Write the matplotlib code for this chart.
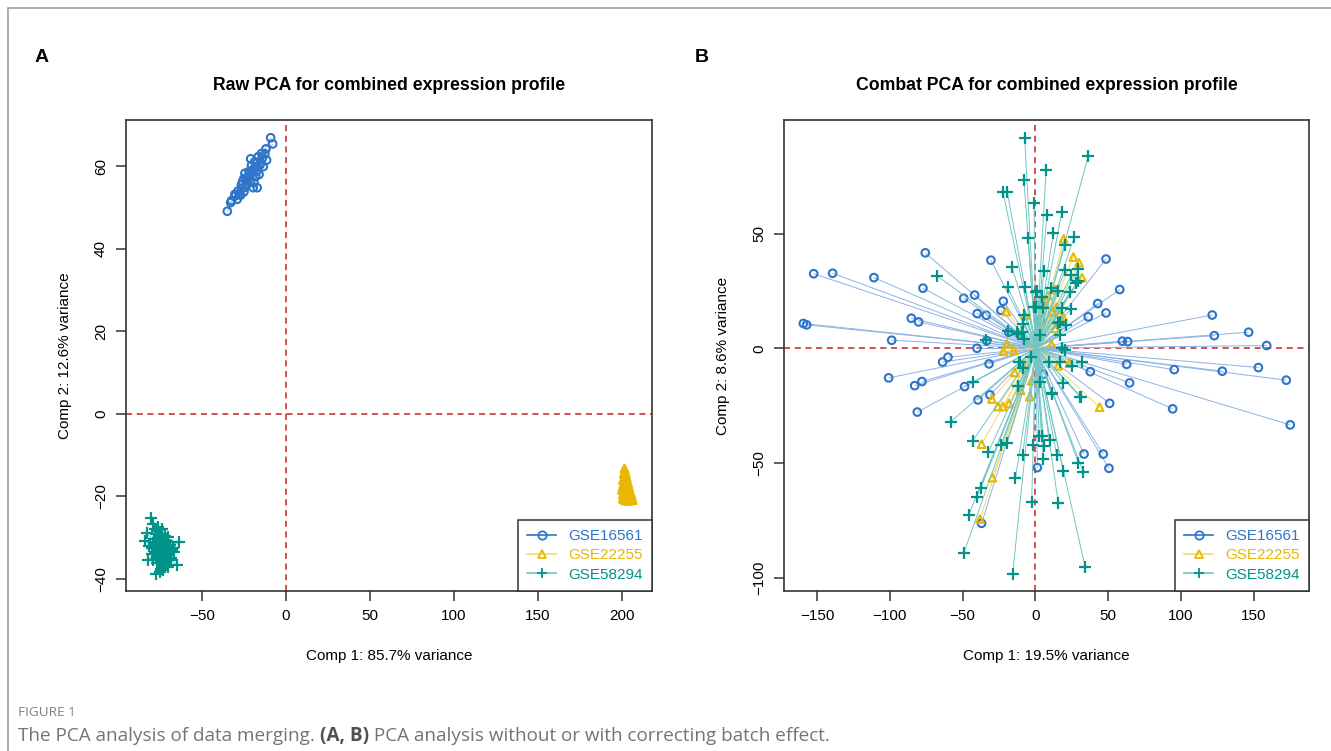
import numpy as np
import matplotlib
matplotlib.use("Agg")
import matplotlib.pyplot as plt
from matplotlib.collections import LineCollection
from matplotlib.lines import Line2D
from matplotlib.patches import Rectangle

plt.rcParams['font.family'] = ['Liberation Sans', 'DejaVu Sans']

groups = ['GSE16561', 'GSE22255', 'GSE58294']
colors = ['#2E74C9', '#E8B700', '#00938A']
line_colors = ['#8DB3E6', '#F2D873', '#72C6C0']
markers = ['o', '^', '+']

# ---- Panel A : raw PCA ----
a_blue_x = [-34.9, -32.9, -32.3, -30.4, -27.8, -30.0, -27.0, -25.0, -24.4, -25.8, -23.4, -24.4,
            -21.4, -19.5, -17.5, -18.5, -15.5, -13.5, -14.5, -11.9, -11.5, -9.1, -7.9, -19.5,
            -17.1, -21.4, -20.4, -22.0, -17.5, -26.4, -29.0, -26.5, -22.8, -20.5, -16.0, -14.0,
            -15.0, -23.0, -18.0, -21.0, -16.5, -12.5, -19.0, -25.0, -28.5]
a_blue_y = [49.1, 51.2, 51.7, 53.2, 53.2, 52.9, 53.0, 53.8, 54.9, 56.3, 56.7, 58.3,
            57.9, 59.2, 59.9, 61.1, 60.3, 59.9, 63.1, 64.2, 61.5, 66.9, 65.4, 54.8,
            54.8, 56.3, 58.7, 58.7, 58.7, 54.6, 52.0, 55.5, 57.2, 60.2, 58.0, 62.0,
            60.8, 55.8, 57.5, 61.8, 62.3, 63.0, 56.0, 57.0, 54.0]
a_yellow_x = [201.5, 202.0, 201.0, 202.5, 201.5, 203.0, 200.5, 202.0, 203.5, 201.0, 202.5, 204.0,
              200.5, 201.5, 203.0, 204.5, 200.0, 202.0, 203.5, 205.0, 201.0, 202.5, 204.0, 205.5,
              200.5, 202.0, 203.0, 204.5, 206.0, 201.0, 202.5, 204.0, 205.5, 200.5, 203.0, 205.0,
              206.5, 202.0, 204.0, 201.5]
a_yellow_y = [-13.2, -13.8, -14.5, -14.6, -15.3, -15.6, -16.0, -16.2, -16.5, -16.9, -17.0, -17.2,
              -17.5, -17.8, -17.9, -18.0, -18.4, -18.5, -18.7, -18.9, -19.0, -19.1, -19.3, -19.4,
              -19.6, -19.7, -19.8, -19.9, -20.0, -20.2, -20.3, -20.4, -20.5, -20.6, -20.8, -20.9,
              -20.9, -21.0, -21.1, -20.1]
a_teal_x = [-80.6, -79.0, -76.0, -82.9, -83.9, -70.0, -63.5, -67.1, -82.0, -77.0, -77.4, -73.0,
            -65.1, -69.0, -78.0, -76.5, -75.0, -74.0, -73.5, -72.0, -71.0, -78.5, -77.5, -76.0,
            -75.5, -74.5, -73.0, -72.5, -71.5, -70.5, -79.5, -78.0, -77.0, -76.0, -75.0, -74.0,
            -73.0, -72.0, -71.0, -69.5, -68.5, -80.0, -79.0, -76.5, -75.5, -74.5, -73.5, -72.5,
            -71.5, -70.0, -68.0, -77.5, -76.0, -75.0, -73.5, -72.0, -70.5, -66.5, -81.5, -74.0,
            -78.5, -76.5, -73.0, -71.0, -69.0, -75.0]
a_teal_y = [-25.1, -26.6, -27.3, -28.9, -30.9, -29.7, -31.1, -32.5, -35.4, -36.2, -38.7, -37.9,
            -36.6, -35.4, -27.8, -28.4, -29.2, -28.0, -30.0, -29.5, -31.0, -30.2, -31.5, -30.5,
            -32.0, -31.2, -32.8, -31.8, -33.0, -32.2, -32.5, -33.5, -33.0, -34.0, -33.4, -34.5,
            -34.0, -35.0, -34.2, -33.8, -34.8, -34.0, -35.5, -35.2, -36.0, -35.6, -36.5, -36.0,
            -35.5, -37.0, -33.0, -29.0, -30.0, -31.0, -29.2, -30.6, -30.8, -33.5, -32.0, -37.5,
            -31.0, -33.8, -31.5, -32.5, -31.8, -38.2]
a_centers = [(-20.0, 58.0), (203.0, -18.5), (-74.5, -32.5)]

# ---- Panel B : ComBat PCA ----
b_blue_x = [-152.3, -139.3, -110.9, -75.6, -77.2, -30.5, -49.2, -41.7, -22.0, -23.6, -39.9, -33.7,
            -85.2, -80.2, -159.4, -157.1, -98.7, -40.1, -33.4, -18.2, -60.0, -63.7, -31.8, -100.8,
            -82.9, -77.9, -48.6, -31.2, -39.4, -81.1, 1.4, -36.9, 48.6, 58.0, 42.9, 48.6,
            36.4, 121.6, 123.0, 146.6, 159.0, 59.8, 63.5, 62.8, 95.5, 128.5, 153.3, 172.5,
            64.8, 37.8, 5.5, 51.1, 94.4, 175.2, 33.5, 46.7, 50.6, 3.8]
b_blue_y = [32.5, 32.7, 30.8, 41.6, 26.2, 38.4, 21.8, 23.2, 20.5, 16.6, 15.1, 14.4,
            13.1, 11.5, 10.8, 10.2, 3.5, 0.0, 3.3, 7.0, -3.9, -6.0, -6.8, -12.9,
            -16.3, -14.5, -16.7, -20.3, -22.5, -27.8, -52.0, -76.3, 38.9, 25.6, 19.5, 15.4,
            13.7, 14.5, 5.5, 7.0, 1.2, 3.1, 2.9, -7.0, -9.3, -10.0, -8.4, -13.9,
            -15.1, -10.2, -11.3, -24.0, -26.4, -33.4, -46.1, -46.1, -52.3, 12.4]
b_yellow_x = [-19.9, -19.5, -22.0, -14.7, -7.1, 0.9, -14.2, -8.2, -2.5, -10.1, -3.7, -29.8,
              -25.7, -22.4, -18.1, -36.9, -29.5, -38.0, 19.5, 26.1, 30.0, 32.1, 14.0, 8.7,
              6.2, 11.7, 16.3, 19.0, 13.5, 11.2, 15.8, 23.4, 44.2, 4.4, 14.7, 18.1]
b_yellow_y = [16.0, 1.9, -1.3, -0.9, 14.5, 19.6, -10.5, -8.3, -14.1, -18.3, -21.1, -22.1,
              -25.4, -25.4, -24.1, -41.8, -56.4, -74.4, 47.7, 39.8, 37.3, 30.8, 25.6, 23.0,
              19.6, 16.0, 15.1, 13.8, 8.7, 1.7, -7.6, -6.5, -25.7, 20.3, 18.0, 12.0]
b_teal_x = [-7.3, -7.8, -22.2, -19.2, -0.9, -5.0, -16.0, -67.3, -19.0, -6.9, 0.2, -1.1,
            -7.6, -8.2, -18.6, -12.1, -34.1, -11.0, -8.7, -42.8, -12.1, -58.2, -43.1, -32.3,
            -23.6, -19.2, -1.4, -8.7, -13.7, -37.3, -40.3, -45.8, -2.5, -49.2, -15.6, 2.7,
            36.4, 7.4, 8.0, 18.3, 12.4, 26.8, 20.4, 6.0, 20.4, 24.5, 29.6, 28.0,
            29.6, 0.9, 10.8, 15.8, 23.8, 4.4, 0.5, 18.6, 24.5, 5.5, 21.1, 15.4,
            17.0, 18.6, 9.4, 17.0, 25.0, 31.9, 3.2, 19.2, 11.2, 31.4, 4.4, 6.0,
            10.1, 14.7, 5.5, 29.6, 33.0, 19.3, 15.8, 34.2, -12.8, -9.3, 17.0, 20.4,
            -10.5, -11.7, 11.3, 30.7, -8.0, -3.0, 3.0]
b_teal_y = [91.8, 73.4, 68.0, 67.9, 63.5, 48.2, 35.5, 31.5, 26.7, 26.6, 24.7, 18.2,
            14.5, 10.6, 7.6, 6.1, 3.5, -6.2, -8.7, -14.8, -16.4, -32.0, -40.4, -45.3,
            -42.1, -41.1, -42.1, -46.5, -56.7, -60.7, -65.0, -72.7, -66.8, -89.4, -98.5, -38.2,
            83.8, 77.7, 58.3, 59.6, 50.3, 48.5, 45.0, 33.7, 34.0, 31.8, 34.6, 28.3,
            29.5, 25.1, 26.3, 25.1, 24.7, 22.5, 18.2, 17.4, 17.1, 17.4, 10.2, 10.9,
            5.8, 0.0, -6.2, -6.2, -7.7, -5.8, -14.5, -15.0, -20.1, -21.1, -38.1, -42.4,
            -40.0, -46.4, -48.4, -49.8, -53.8, -53.5, -67.6, -95.2, 7.2, 7.2, 11.6, -0.7,
            -5.8, -16.4, -19.6, -21.1, 4.0, -4.0, 6.0]
b_centers = [(0.5, 0.0), (0.5, 0.0), (0.5, 0.0)]

panel_a = dict(
    xs=[a_blue_x, a_yellow_x, a_teal_x], ys=[a_blue_y, a_yellow_y, a_teal_y], centers=a_centers,
    title='Raw PCA for combined expression profile',
    xlabel='Comp 1: 85.7% variance', ylabel='Comp 2: 12.6% variance',
    xlim=(-95.2, 217.9), ylim=(-42.9, 71.2),
    xticks=[-50, 0, 50, 100, 150, 200], yticks=[-40, -20, 0, 20, 40, 60])
panel_b = dict(
    xs=[b_blue_x, b_yellow_x, b_teal_x], ys=[b_blue_y, b_yellow_y, b_teal_y], centers=b_centers,
    title='Combat PCA for combined expression profile',
    xlabel='Comp 1: 19.5% variance', ylabel='Comp 2: 8.6% variance',
    xlim=(-172.7, 188.3), ylim=(-105.8, 99.5),
    xticks=[-150, -100, -50, 0, 50, 100, 150], yticks=[-100, -50, 0, 50])

W, H = 1331, 751
fig = plt.figure(figsize=(W / 100, H / 100), dpi=100)

# outer frame of the figure page
fig.patches.append(Rectangle((8 / W, -0.1), 1.2, (H - 8) / H + 0.1, transform=fig.transFigure,
                             fill=False, edgecolor='#A0A0A0', linewidth=1.2))


def draw_panel(rect, p):
    ax = fig.add_axes(rect)
    for i in range(3):
        cx, cy = p['centers'][i]
        segs = [[(cx, cy), (x, y)] for x, y in zip(p['xs'][i], p['ys'][i])]
        ax.add_collection(LineCollection(segs, colors=line_colors[i], linewidths=0.7, zorder=2 + i * 2))
        if markers[i] == '+':
            ax.scatter(p['xs'][i], p['ys'][i], marker='+', s=70, color=colors[i],
                       linewidths=1.6, zorder=3 + i * 2)
        else:
            ax.scatter(p['xs'][i], p['ys'][i], marker=markers[i], s=30, facecolors='none',
                       edgecolors=colors[i], linewidths=1.5, zorder=3 + i * 2)
    ax.axvline(0, color='#CC2020', linestyle=(0, (4, 3)), linewidth=1.1, zorder=1)
    ax.axhline(0, color='#CC2020', linestyle=(0, (4, 3)), linewidth=1.1, zorder=1)
    ax.set_xlim(*p['xlim'])
    ax.set_ylim(*p['ylim'])
    ax.set_xticks(p['xticks'])
    ax.set_yticks(p['yticks'])
    ax.set_xticklabels([str(v).replace('-', '\u2212') for v in p['xticks']])
    ax.set_yticklabels([str(v).replace('-', '\u2212') for v in p['yticks']])
    ax.tick_params(direction='out', length=7, width=1.1, color='#333333', labelsize=11, pad=6)
    plt.setp(ax.get_yticklabels(), rotation=90, va='center')
    for s in ax.spines.values():
        s.set_color('#333333')
        s.set_linewidth(1.2)
    ax.set_title(p['title'], fontsize=12.7, fontweight='bold', pad=21.5)
    ax.set_xlabel(p['xlabel'], fontsize=11, labelpad=19)
    ax.set_ylabel(p['ylabel'], fontsize=11, labelpad=16)
    handles = [Line2D([0], [0], color=line_colors[i] if i != 0 else colors[i], marker=markers[i],
                      markersize=7 if markers[i] == '+' else 6, markerfacecolor='none',
                      markeredgecolor=colors[i], markeredgewidth=1.3, linewidth=1.2)
               for i in range(3)]
    leg = ax.legend(handles, groups, loc='lower right', borderaxespad=0, fancybox=False,
                    edgecolor='#333333', framealpha=1, fontsize=11, handlelength=1.9,
                    handletextpad=0.8, labelspacing=0.35, borderpad=0.6)
    leg.get_frame().set_linewidth(1.1)
    for t, c in zip(leg.get_texts(), colors):
        t.set_color(c)
    return ax


draw_panel([126 / W, 1 - 591 / H, 526 / W, 471 / H], panel_a)
draw_panel([784 / W, 1 - 591 / H, 525.3 / W, 471 / H], panel_b)

fig.text(35 / W, 1 - 57 / H, 'A', fontsize=14, fontweight='bold', va='center', ha='left')
fig.text(695 / W, 1 - 57 / H, 'B', fontsize=14, fontweight='bold', va='center', ha='left')

cap_font = ['Open Sans', 'DejaVu Sans']
fig.text(18 / W, 1 - 712 / H, 'FIGURE 1', fontsize=9.7, color='#808080', va='center', ha='left',
         family=cap_font)
cap = fig.text(18 / W, 1 - 736 / H, 'The PCA analysis of data merging. ', fontsize=13.6,
               color='#747474', va='center', ha='left', family=cap_font)
fig.canvas.draw()
bb = cap.get_window_extent()
cap2 = fig.text(bb.x1 / W, 1 - 736 / H, '(A, B)', fontsize=13.6, color='#505050', fontweight='bold',
                va='center', ha='left', family=cap_font)
fig.canvas.draw()
bb2 = cap2.get_window_extent()
fig.text(bb2.x1 / W, 1 - 736 / H, ' PCA analysis without or with correcting batch effect.',
         fontsize=13.6, color='#747474', va='center', ha='left', family=cap_font)

fig.savefig('out.png', dpi=100)
